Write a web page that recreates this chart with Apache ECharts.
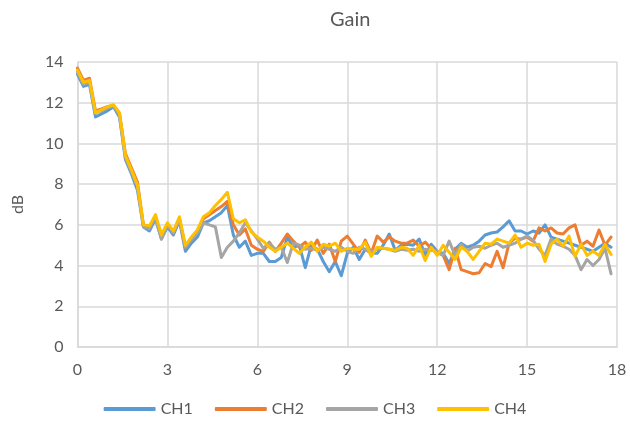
<!DOCTYPE html>
<html>
<head>
<meta charset="utf-8">
<script src="https://cdn.jsdelivr.net/npm/echarts@6/dist/echarts.min.js"></script>
<style>
  html, body { margin: 0; padding: 0; background: #fff; }
  #chart { width: 630px; height: 434px; }
</style>
</head>
<body>
<div id="chart"></div>
<script>
// frequency axis (step 0.2)
const xs = [
  0, 0.2, 0.4, 0.6, 0.8, 1.0, 1.2, 1.4, 1.6, 1.8, 2.0, 2.2, 2.4, 2.6, 2.8, 3.0,
  3.2, 3.4, 3.6, 3.8, 4.0, 4.2, 4.4, 4.6, 4.8, 5.0, 5.2, 5.4, 5.6, 5.8, 6.0,
  6.2, 6.4, 6.6, 6.8, 7.0, 7.2, 7.4, 7.6, 7.8, 8.0, 8.2, 8.4, 8.6, 8.8, 9.0,
  9.2, 9.4, 9.6, 9.8, 10.0, 10.2, 10.4, 10.6, 10.8, 11.0, 11.2, 11.4, 11.6, 11.8, 12.0,
  12.2, 12.4, 12.6, 12.8, 13.0, 13.2, 13.4, 13.6, 13.8, 14.0, 14.2, 14.4, 14.6, 14.8, 15.0,
  15.2, 15.4, 15.6, 15.8, 16.0, 16.2, 16.4, 16.6, 16.8, 17.0, 17.2, 17.4, 17.6, 17.8
]
const ch1 = [
  13.4, 12.8, 12.9, 11.3, 11.45, 11.6, 11.8, 11.3, 9.2, 8.5, 7.7, 5.9, 5.7, 6.3, 5.3, 5.9,
  5.5, 6.2, 4.7, 5.1, 5.4, 6.1, 6.2, 6.4, 6.6, 6.95, 5.5, 4.9, 5.2, 4.5, 4.6,
  4.6, 4.2, 4.2, 4.4, 5.4, 4.9, 5.0, 3.9, 5.0, 4.8, 4.2, 3.7, 4.2, 3.5, 4.6,
  4.9, 4.3, 4.8, 4.6, 4.6, 5.0, 5.55, 4.75, 5.0, 5.05, 5.0, 5.3, 4.5, 5.05, 4.7,
  4.6, 4.1, 4.8, 5.1, 4.9, 5.0, 5.2, 5.5, 5.6, 5.65, 5.9, 6.2, 5.7, 5.7, 5.55,
  5.7, 5.6, 6.0, 5.4, 5.3, 5.2, 5.1, 5.0, 4.9, 4.8, 4.7, 4.9, 5.1, 4.9
]
const ch2 = [
  13.7, 13.1, 13.2, 11.6, 11.7, 11.8, 11.85, 11.5, 9.5, 8.8, 8.1, 6.0, 5.9, 6.4, 5.5, 6.0,
  5.6, 6.3, 4.9, 5.3, 5.6, 6.3, 6.5, 6.7, 6.9, 7.15, 6.0, 5.5, 5.8, 5.0, 4.8,
  4.7, 5.15, 4.7, 5.1, 5.55, 5.2, 4.9, 5.15, 4.75, 5.25, 4.6, 5.05, 4.2, 5.2, 5.45,
  5.05, 4.65, 5.25, 4.6, 5.45, 5.15, 5.4, 5.2, 5.1, 5.1, 5.25, 4.95, 5.15, 4.85, 4.65,
  4.5, 3.8, 4.85, 3.8, 3.7, 3.6, 3.65, 4.1, 3.95, 4.7, 3.9, 5.1, 5.35, 5.3, 5.4,
  5.2, 5.85, 5.7, 5.85, 5.6, 5.55, 5.85, 6.0, 5.0, 5.2, 4.95, 5.75, 5.0, 5.4
]
const ch3 = [
  13.5, 12.9, 13.0, 11.5, 11.6, 11.75, 11.85, 11.4, 9.3, 8.6, 7.9, 5.9, 5.8, 6.4, 5.3, 6.0,
  5.6, 6.3, 4.9, 5.3, 5.6, 6.1, 6.0, 5.9, 4.4, 4.9, 5.2, 5.6, 6.1, 5.7, 5.3,
  4.85, 5.1, 4.8, 4.9, 4.15, 5.1, 5.0, 4.8, 4.85, 4.75, 4.9, 4.8, 4.7, 4.9, 4.7,
  4.6, 4.9, 4.8, 4.7, 4.8, 4.85, 4.8, 4.7, 4.8, 4.75, 4.8, 4.7, 4.8, 4.75, 4.7,
  4.5, 5.2, 4.5, 5.05, 4.7, 4.9, 4.95, 4.85, 5.0, 5.1, 4.9, 5.0, 5.1, 5.3, 5.45,
  5.25, 4.8, 4.5, 5.3, 5.05, 4.95, 4.8, 4.5, 3.8, 4.3, 4.0, 4.3, 4.85, 3.6
]
const ch4 = [
  13.6, 13.0, 13.1, 11.5, 11.65, 11.8, 11.9, 11.5, 9.4, 8.7, 7.95, 6.0, 5.95, 6.5, 5.5, 6.1,
  5.7, 6.4, 5.0, 5.4, 5.75, 6.4, 6.6, 6.95, 7.25, 7.6, 6.3, 6.1, 6.25, 5.65, 5.4,
  5.2, 4.9, 4.7, 4.9, 5.1, 4.85, 4.6, 4.9, 5.15, 4.7, 5.05, 4.95, 5.1, 4.7, 4.85,
  4.8, 4.8, 5.15, 4.45, 4.9, 4.85, 4.8, 4.75, 4.9, 4.85, 4.5, 5.0, 4.25, 4.9, 4.5,
  5.0, 4.65, 4.3, 4.9, 4.7, 4.3, 4.7, 5.1, 5.05, 5.3, 5.2, 5.1, 5.5, 4.9, 5.1,
  5.0, 5.05, 4.2, 5.05, 5.3, 4.95, 5.45, 4.45, 5.05, 4.5, 4.7, 4.5, 5.05, 4.55
]
const seriesNames = ['CH1', 'CH2', 'CH3', 'CH4']
const seriesColors = ['#5B9BD5', '#ED7D31', '#A5A5A5', '#FFC000']

const chart = echarts.init(document.getElementById('chart'))
const font = 'Lato, "Open Sans", sans-serif'
const allData = [ch1, ch2, ch3, ch4]

const option = {
  animation: false,
  color: seriesColors,
  textStyle: { fontFamily: font },
  title: {
    text: 'Gain',
    left: 325,
    top: 5,
    textStyle: { fontSize: 20, fontWeight: 'normal', color: '#595959', fontFamily: font }
  },
  grid: {
    left: 77.5,
    right: 13,
    top: 62,
    bottom: 87
  },
  legend: {
    bottom: 12,
    left: 'center',
    icon: 'roundRect',
    itemWidth: 52,
    itemHeight: 4,
    itemGap: 22,
    textStyle: { fontSize: 16, color: '#595959', fontFamily: font },
    data: seriesNames
  },
  xAxis: {
    type: 'value',
    min: 0,
    max: 18,
    interval: 3,
    axisLine: { show: true, lineStyle: { color: '#D9D9D9', width: 1.5 } },
    axisTick: { show: false },
    axisLabel: { color: '#595959', fontSize: 16, margin: 15 },
    splitLine: { show: true, lineStyle: { color: '#D9D9D9', width: 1.5 } }
  },
  yAxis: {
    type: 'value',
    min: 0,
    max: 14,
    interval: 2,
    name: 'dB',
    nameLocation: 'middle',
    nameGap: 52,
    nameRotate: 90,
    nameTextStyle: { fontSize: 16, color: '#595959' },
    axisLine: { show: true, lineStyle: { color: '#D9D9D9', width: 1.5 } },
    axisTick: { show: false },
    axisLabel: { color: '#595959', fontSize: 16, margin: 14 },
    splitLine: { show: true, lineStyle: { color: '#D9D9D9', width: 1.5 } }
  },
  series: seriesNames.map((name, i) => ({
    name: name,
    type: 'line',
    showSymbol: false,
    lineStyle: { width: 3, color: seriesColors[i], join: 'round', cap: 'round' },
    data: xs.map((x, j) => [x, allData[i][j]])
  }))
}

chart.setOption(option)
window.addEventListener('resize', function () {
  chart.resize()
})
</script>
</body>
</html>
